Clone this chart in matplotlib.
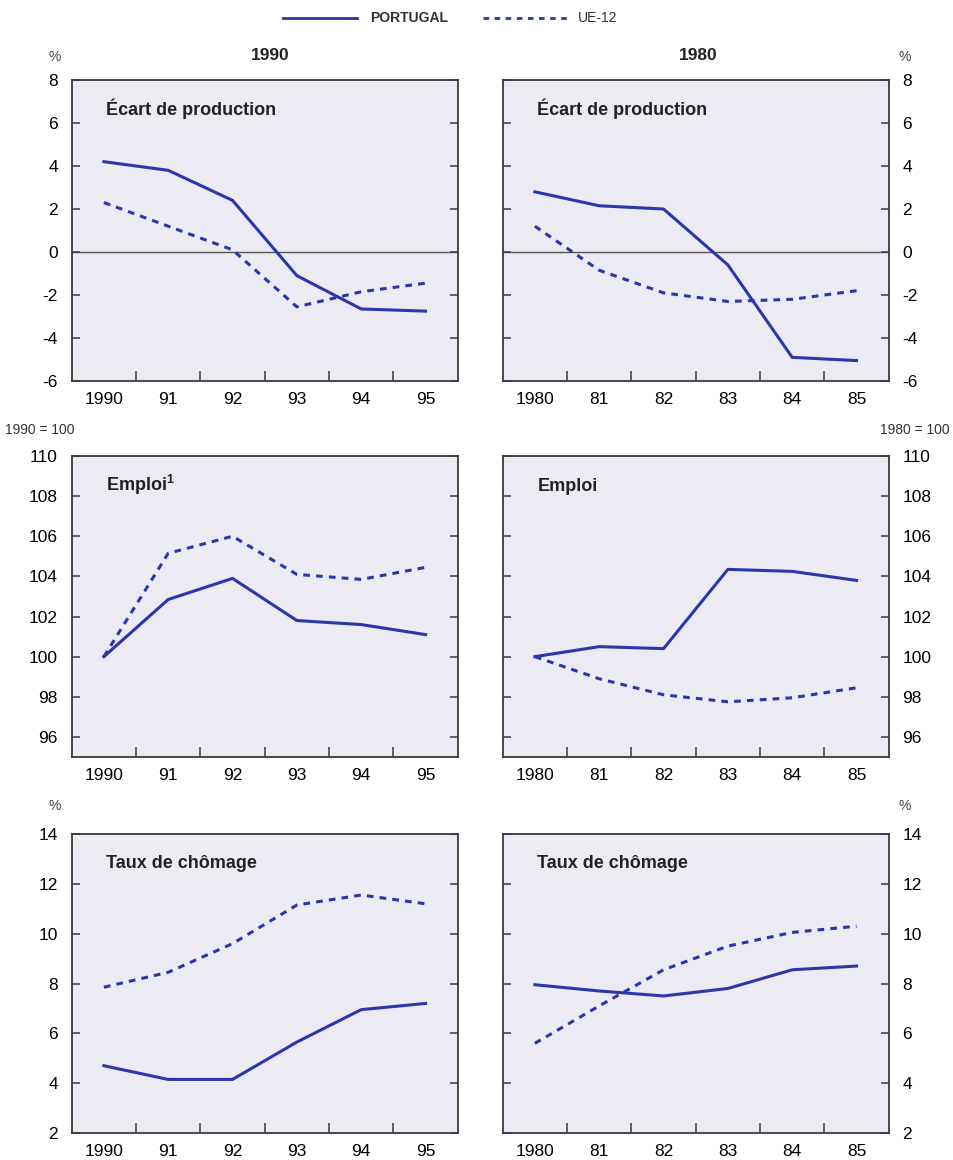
import matplotlib
matplotlib.use('Agg')
import matplotlib.pyplot as plt
from matplotlib.lines import Line2D

plt.rcParams['font.family'] = ['Liberation Sans Narrow', 'Liberation Sans', 'DejaVu Sans']
plt.rcParams['axes.unicode_minus'] = False

# x positions: one slot per year, points centred in the slot
years_90 = ['1990', '91', '92', '93', '94', '95']
years_80 = ['1980', '81', '82', '83', '84', '85']

# output gap (%)
gap_pt_90 = [4.2, 3.8, 2.4, -1.1, -2.65, -2.75]
gap_eu_90 = [2.3, 1.2, 0.1, -2.55, -1.85, -1.45]
gap_pt_80 = [2.8, 2.15, 2.0, -0.6, -4.9, -5.05]
gap_eu_80 = [1.2, -0.85, -1.9, -2.3, -2.2, -1.8]

# employment (base year = 100)
emp_pt_90 = [100.0, 102.85, 103.9, 101.8, 101.6, 101.1]
emp_eu_90 = [100.0, 105.15, 106.0, 104.1, 103.85, 104.45]
emp_pt_80 = [100.0, 100.5, 100.4, 104.35, 104.25, 103.8]
emp_eu_80 = [100.0, 98.9, 98.1, 97.75, 97.95, 98.45]

# unemployment rate (%)
unemp_pt_90 = [4.7, 4.15, 4.15, 5.65, 6.95, 7.2]
unemp_eu_90 = [7.85, 8.45, 9.6, 11.15, 11.55, 11.2]
unemp_pt_80 = [7.95, 7.7, 7.5, 7.8, 8.55, 8.7]
unemp_eu_80 = [5.6, 7.1, 8.55, 9.5, 10.05, 10.3]

BLUE = '#2b36ad'
PANEL_BG = '#ecebf3'
FRAME = '#3a3a3a'
BOLD_FAMILY = ['Liberation Sans', 'DejaVu Sans']

fig = plt.figure(figsize=(9.54, 11.6), dpi=100)

W, H = 954, 1160
col_x = [71.7, 502.7]
col_w = 386.0
rows = [(80, 381), (456, 757), (834, 1133)]

panels = [
    # (row, col, title, pt, eu, ylim, yticks, xlabels)
    (0, 0, 'Écart de production', gap_pt_90, gap_eu_90, (-6, 8), range(-6, 9, 2), years_90),
    (0, 1, 'Écart de production', gap_pt_80, gap_eu_80, (-6, 8), range(-6, 9, 2), years_80),
    (1, 0, r'Emploi$^{\mathregular{1}}$', emp_pt_90, emp_eu_90, (95, 110), range(96, 111, 2), years_90),
    (1, 1, 'Emploi', emp_pt_80, emp_eu_80, (95, 110), range(96, 111, 2), years_80),
    (2, 0, 'Taux de chômage', unemp_pt_90, unemp_eu_90, (2, 14), range(2, 15, 2), years_90),
    (2, 1, 'Taux de chômage', unemp_pt_80, unemp_eu_80, (2, 14), range(2, 15, 2), years_80),
]

for r, c, title, pt, eu, ylim, yticks, xlabels in panels:
    top, bot = rows[r]
    ax = fig.add_axes([col_x[c] / W, 1 - bot / H, col_w / W, (bot - top) / H])
    ax.set_facecolor(PANEL_BG)
    xs = [i + 0.5 for i in range(len(pt))]
    if r == 0:
        ax.axhline(0, color='#555555', lw=1.0, zorder=1)
    ax.plot(xs, eu, color=BLUE, lw=2.2, ls=(0, (2.2, 2.0)), zorder=2)
    ax.plot(xs, pt, color=BLUE, lw=2.2, zorder=3)
    ax.set_xlim(0, 6)
    ax.set_ylim(*ylim)

    # year boundaries as major ticks, labels centred as minor ticks
    ax.set_xticks(range(1, 6))
    ax.set_xticklabels([])
    ax.set_xticks(xs, minor=True)
    ax.set_xticklabels(xlabels, minor=True, fontsize=12.5)
    ax.tick_params(axis='x', which='major', direction='in', length=7, width=1.1, color=FRAME)
    ax.tick_params(axis='x', which='minor', length=0, pad=8)

    ax.set_yticks(list(yticks))
    ax.tick_params(axis='y', direction='in', length=6, width=1.1, color=FRAME,
                   left=True, right=True, labelsize=12.5,
                   labelleft=(c == 0), labelright=(c == 1), pad=10)
    for s in ax.spines.values():
        s.set_color(FRAME)
        s.set_linewidth(1.3)

    ax.text(0.09, 0.885, title, transform=ax.transAxes, fontsize=13,
            fontweight='bold', color='#222222', family=BOLD_FAMILY)

# unit captions
fig.text(55 / W, 1 - 57 / H, '%', ha='center', va='center', fontsize=10, color='#444444')
fig.text(905 / W, 1 - 57 / H, '%', ha='center', va='center', fontsize=10, color='#444444')
fig.text(5 / W, 1 - 430 / H, '1990 = 100', ha='left', va='center', fontsize=10, color='#333333')
fig.text(950 / W, 1 - 430 / H, '1980 = 100', ha='right', va='center', fontsize=10, color='#333333')
fig.text(55 / W, 1 - 806 / H, '%', ha='center', va='center', fontsize=10, color='#444444')
fig.text(905 / W, 1 - 806 / H, '%', ha='center', va='center', fontsize=10, color='#444444')

# column headers
fig.text(270 / W, 1 - 55 / H, '1990', ha='center', va='center', fontsize=12.5,
         fontweight='bold', family=BOLD_FAMILY, color='#222222')
fig.text(698 / W, 1 - 55 / H, '1980', ha='center', va='center', fontsize=12.5,
         fontweight='bold', family=BOLD_FAMILY, color='#222222')

# legend
fig.add_artist(Line2D([283 / W, 357 / W], [1 - 18 / H, 1 - 18 / H], color=BLUE, lw=2.0))
fig.text(370 / W, 1 - 18 / H, 'PORTUGAL', ha='left', va='center', fontsize=10,
         fontweight='bold', family=BOLD_FAMILY, color='#333333')
fig.add_artist(Line2D([483 / W, 568 / W], [1 - 18 / H, 1 - 18 / H], color=BLUE, lw=2.0,
                      ls=(0, (2.0, 2.0))))
fig.text(578 / W, 1 - 18 / H, 'UE-12', ha='left', va='center', fontsize=10,
         family=BOLD_FAMILY, color='#333333')

fig.savefig('out.png', dpi=100, facecolor='white')
